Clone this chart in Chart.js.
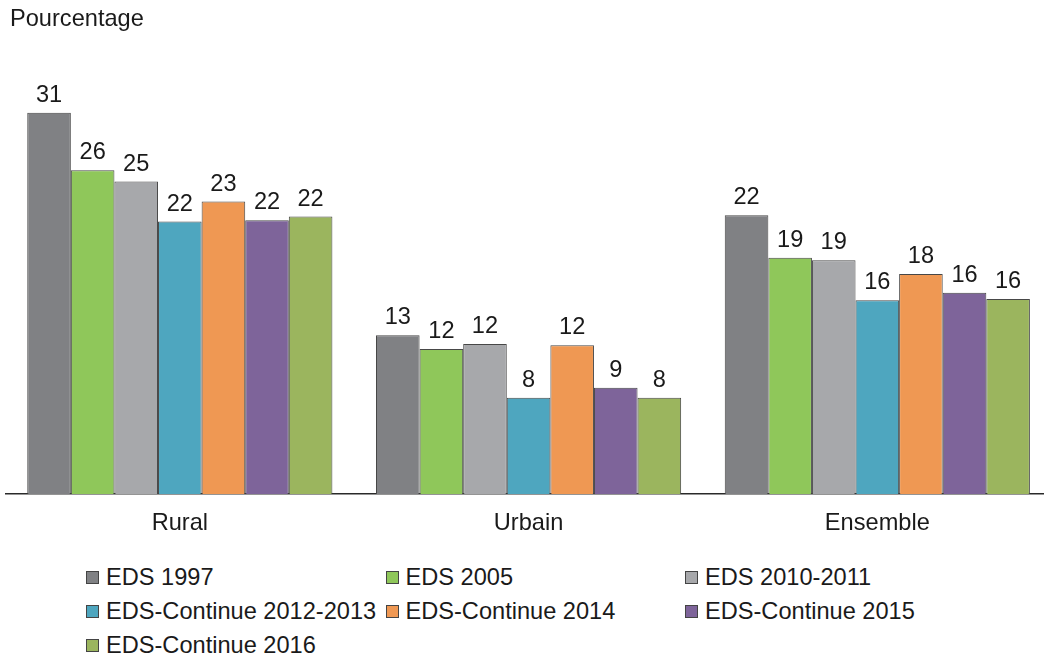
<!DOCTYPE html>
<html>
<head>
<meta charset="utf-8">
<script src="https://cdn.jsdelivr.net/npm/chart.js@4/dist/chart.umd.min.js"></script>
<style>
  html, body { margin: 0; padding: 0; background: #fff; overflow: hidden; width: 1044px; height: 662px; }
  #wrap { position: relative; width: 1044px; height: 662px; overflow: hidden; }
  #c { position: absolute; left: 0; top: 0; }
  #legend { position: absolute; left: 86px; top: 560px; display: grid; grid-template-columns: 299.5px 299.5px 299.5px; grid-auto-rows: 34px; font-family: "Liberation Sans", Arial, sans-serif; font-size: 23.6px; color: #1a1a1a; }
  .item { display: flex; align-items: center; white-space: nowrap; line-height: 34px; }
  .box { width: 11px; height: 11px; border: 1px solid #444; margin-right: 7px; flex: none; }
</style>
</head>
<body>
<div id="wrap">
  <canvas id="c" width="1060" height="550"></canvas>
  <div id="legend"></div>
</div>
<script>
const categories = ["Rural", "Urbain", "Ensemble"];
const seriesNames = ["EDS 1997", "EDS 2005", "EDS 2010-2011", "EDS-Continue 2012-2013", "EDS-Continue 2014", "EDS-Continue 2015", "EDS-Continue 2016"];
const eds1997 = [30.5, 12.7, 22.3];
const eds2005 = [25.9, 11.6, 18.9];
const eds2010 = [25.0, 12.0, 18.7];
const edsc2012 = [21.8, 7.7, 15.5];
const edsc2014 = [23.4, 11.9, 17.6];
const edsc2015 = [21.9, 8.5, 16.1];
const edsc2016 = [22.2, 7.7, 15.6];
const seriesValues = [eds1997, eds2005, eds2010, edsc2012, edsc2014, edsc2015, edsc2016];
const colors = ["#808184", "#8fc75a", "#a7a8ab", "#4ea6bf", "#ef9853", "#7e649a", "#9bb55e"];
const yTitle = "Pourcentage";

const FONT = '"Liberation Sans", Arial, sans-serif';
const FS = 23.6;

const labelPlugin = {
  id: 'barLabels',
  afterDatasetsDraw(chart) {
    const ctx = chart.ctx;
    ctx.save();
    ctx.font = FS + 'px ' + FONT;
    ctx.fillStyle = '#1a1a1a';
    ctx.textAlign = 'center';
    ctx.textBaseline = 'alphabetic';
    chart.data.datasets.forEach((ds, i) => {
      const meta = chart.getDatasetMeta(i);
      meta.data.forEach((el, j) => {
        ctx.fillText(String(Math.round(ds.data[j])), el.x, el.y - 11);
      });
    });
    ctx.restore();
  }
};

const titlePlugin = {
  id: 'topTitle',
  afterDraw(chart) {
    const ctx = chart.ctx;
    ctx.save();
    ctx.font = FS + 'px ' + FONT;
    ctx.fillStyle = '#1a1a1a';
    ctx.textAlign = 'left';
    ctx.textBaseline = 'alphabetic';
    ctx.fillText(yTitle, 10, 26);
    ctx.restore();
  }
};

const chart = new Chart(document.getElementById('c'), {
  type: 'bar',
  data: {
    labels: categories,
    datasets: seriesNames.map((name, i) => ({
      label: name,
      data: seriesValues[i],
      backgroundColor: colors[i],
      borderColor: '#474747',
      borderWidth: 1,
      barPercentage: 1,
      categoryPercentage: 0.875
    }))
  },
  options: {
    responsive: false,
    animation: false,
    devicePixelRatio: 1,
    layout: { padding: { left: 5.45, right: 8.3, top: 56.5, bottom: 0 } },
    plugins: { legend: { display: false }, tooltip: { enabled: false }, title: { display: false } },
    scales: {
      x: {
        grid: { display: false, drawTicks: false },
        border: { display: true, color: '#2a2a2a', width: 1.5 },
        ticks: { color: '#1a1a1a', font: { size: FS, family: FONT }, padding: 15 },
        afterFit(scale) { scale.height = 56; }
      },
      y: {
        display: false,
        min: 0,
        max: 35
      }
    }
  },
  plugins: [labelPlugin, titlePlugin]
});

const legend = document.getElementById('legend');
chart.data.datasets.forEach(ds => {
  const item = document.createElement('div');
  item.className = 'item';
  const box = document.createElement('span');
  box.className = 'box';
  box.style.background = ds.backgroundColor;
  const txt = document.createElement('span');
  txt.textContent = ds.label;
  item.appendChild(box);
  item.appendChild(txt);
  legend.appendChild(item);
});
</script>
</body>
</html>
